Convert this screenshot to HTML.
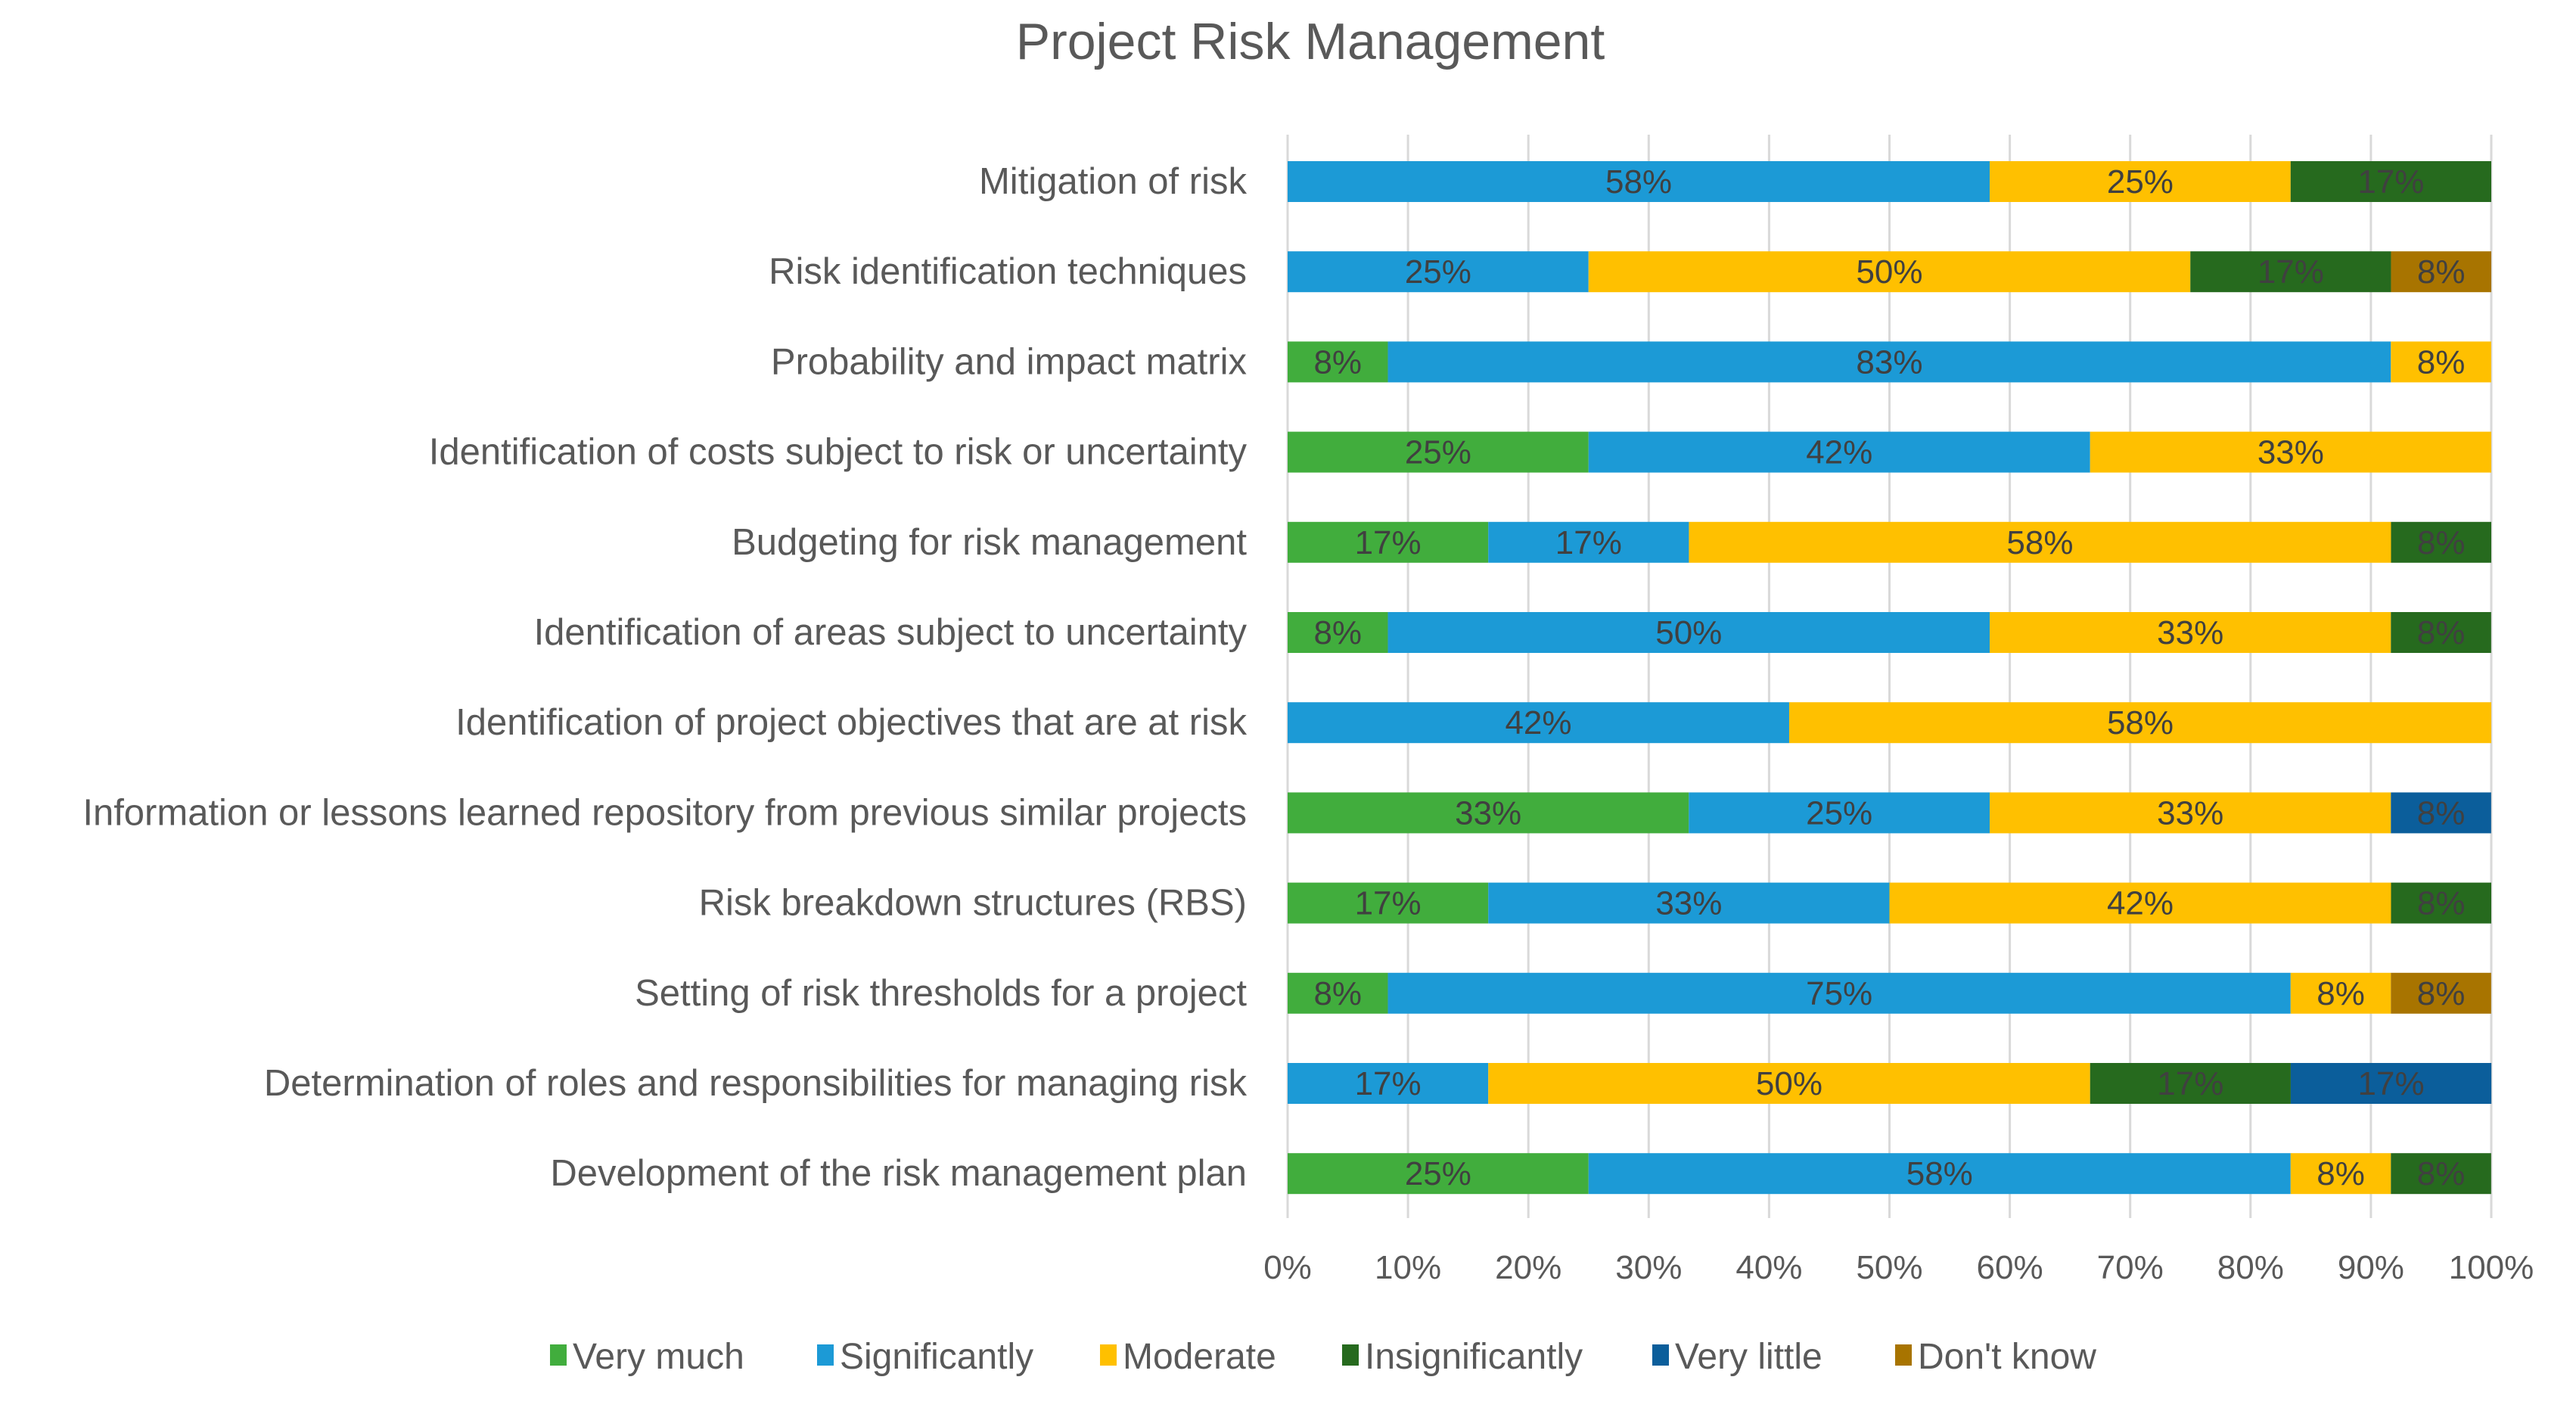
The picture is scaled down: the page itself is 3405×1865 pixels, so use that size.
<!DOCTYPE html>
<html><head><meta charset="utf-8"><style>
html,body{margin:0;padding:0;background:#fff;}
svg{display:block;font-family:"Liberation Sans",sans-serif;}
</style></head><body>
<svg id="chart" width="3405" height="1865" viewBox="0 0 3405 1865" xmlns="http://www.w3.org/2000/svg">
<text x="1732" y="78" font-size="68" fill="#595959" text-anchor="middle">Project Risk Management</text>
<g id="grid"></g><g id="bars"></g><g id="labels"></g><g id="ticks"></g><g id="legend"></g>
</svg>
<script>
const categories = ["Mitigation of risk","Risk identification techniques","Probability and impact matrix","Identification of costs subject to risk or uncertainty","Budgeting for risk management","Identification of areas subject to uncertainty","Identification of project objectives that are at risk","Information or lessons learned repository from previous similar projects","Risk breakdown structures (RBS)","Setting of risk thresholds for a project","Determination of roles and responsibilities for managing risk","Development of the risk management plan"];
const seriesNames = ["Very much","Significantly","Moderate","Insignificantly","Very little","Don't know"];
const veryMuch =        [0,0,8.33,25,16.67,8.33,0,33.33,16.67,8.33,0,25];
const significantly =   [58.33,25,83.33,41.67,16.67,50,41.67,25,33.33,75,16.67,58.33];
const moderate =        [25,50,8.33,33.33,58.33,33.33,58.33,33.33,41.67,8.33,50,8.33];
const insignificantly = [16.67,16.67,0,0,8.33,8.33,0,0,8.33,0,16.67,8.33];
const veryLittle =      [0,0,0,0,0,0,0,8.33,0,0,16.67,0];
const dontKnow =        [0,8.33,0,0,0,0,0,0,0,8.33,0,0];
const tickLabels = ["0%","10%","20%","30%","40%","50%","60%","70%","80%","90%","100%"];
const series = [veryMuch,significantly,moderate,insignificantly,veryLittle,dontKnow];
const colors = ["#41AD3D","#1C9AD6","#FFC000","#266A1E","#0B5E9B","#A87400"];
const NS="http://www.w3.org/2000/svg";
const X0=1702,X1=3293,Ytop=178,Ybot=1610,firstC=240,step=119.2,barH=54;
const xs=v=>X0+(X1-X0)*v/100;
const yc=i=>firstC+i*step;
function mk(t,a,p){const e=document.createElementNS(NS,t);for(const k in a)e.setAttribute(k,a[k]);p.appendChild(e);return e;}
const grid=document.getElementById('grid'),bars=document.getElementById('bars'),labels=document.getElementById('labels'),ticks=document.getElementById('ticks'),legend=document.getElementById('legend');
tickLabels.forEach((t,i)=>{
  const x=xs(i*10);
  const l=mk('line',{x1:x,x2:x,y1:Ytop,y2:Ybot,stroke:'#d9d9d9','stroke-width':3},grid);
  
  
  const tx=mk('text',{x:x,y:1690,'font-size':44,fill:'#595959','text-anchor':'middle'},ticks);
  tx.textContent=t;
  
  
});
categories.forEach((c,i)=>{
  const lb=mk('text',{x:1648,y:yc(i)+16,'font-size':49,fill:'#595959','text-anchor':'end'},labels);
  lb.textContent=c;
  
  
  let acc=0;
  series.forEach((s,k)=>{
    const v=s[i]; if(!v) return;
    const x=xs(acc),w=xs(acc+v)-x;
    const r=mk('rect',{x:x,y:yc(i)-barH/2,width:w,height:barH,fill:colors[k]},bars);
    
    
    const t=mk('text',{x:x+w/2,y:yc(i)+15,'font-size':44,fill:'#404040','text-anchor':'middle'},bars);
    t.textContent=Math.round(v)+'%';
    
    
    acc+=v;
  });
});
const legX=[727,1080,1454,1774,2184,2505];
seriesNames.forEach((n,k)=>{
  const r=mk('rect',{x:legX[k],y:1777,width:22,height:28,fill:colors[k]},legend);
  
  
  const t=mk('text',{x:legX[k]+30,y:1809,'font-size':48,fill:'#595959'},legend);
  t.textContent=n;
  
  
});
</script>
</body></html>
